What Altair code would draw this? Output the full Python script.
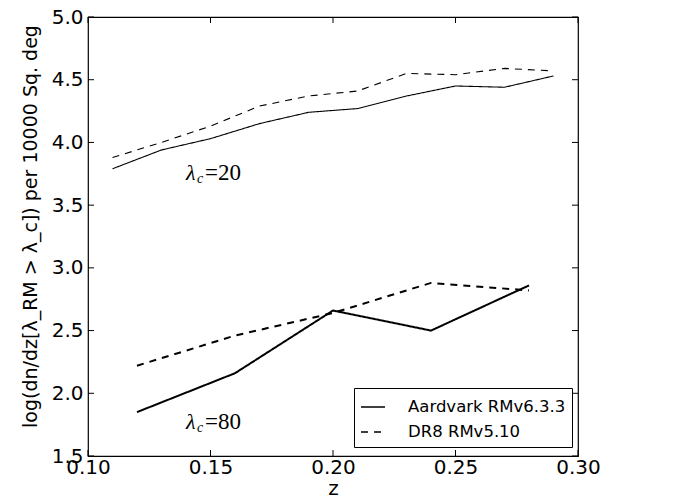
import altair as alt
import pandas as pd

# ---- data ----
z_hi = [0.11, 0.13, 0.15, 0.17, 0.19, 0.21, 0.23, 0.25, 0.27, 0.29]
aard_20 = [3.79, 3.94, 4.03, 4.15, 4.24, 4.27, 4.37, 4.45, 4.44, 4.53]
dr8_20 = [3.88, 4.00, 4.13, 4.29, 4.37, 4.41, 4.55, 4.54, 4.59, 4.57]

z_lo = [0.12, 0.16, 0.20, 0.24, 0.28]
aard_80 = [1.85, 2.16, 2.66, 2.50, 2.86]
dr8_80 = [2.22, 2.46, 2.64, 2.88, 2.82]

series_names = ["Aardvark RMv6.3.3", "DR8 RMv5.10"]
lambda_cuts = ["20", "80"]

x_ticks = [0.10, 0.15, 0.20, 0.25, 0.30]
y_ticks = [1.5, 2.0, 2.5, 3.0, 3.5, 4.0, 4.5, 5.0]

ann_z = [0.14, 0.14]
ann_y = [3.756, 1.771]
ann_val = ["20", "80"]

# ---- build tables ----
rows = []
for name, lam, zs, vs in [
    (series_names[0], lambda_cuts[0], z_hi, aard_20),
    (series_names[1], lambda_cuts[0], z_hi, dr8_20),
    (series_names[0], lambda_cuts[1], z_lo, aard_80),
    (series_names[1], lambda_cuts[1], z_lo, dr8_80),
]:
    for z, v in zip(zs, vs):
        rows.append({"z": z, "v": v, "series": name, "lam": lam, "grp": name + lam})
df = pd.DataFrame(rows)

df_xt = pd.DataFrame({"z": x_ticks})
df_yt = pd.DataFrame({"v": y_ticks})
df_ann = pd.DataFrame({"z": ann_z, "v": ann_y, "eq": ["=" + s for s in ann_val]})

W, H = 490, 439
TL = 6

xscale = alt.Scale(domain=[0.10, 0.30], nice=False, zero=False)
yscale = alt.Scale(domain=[1.5, 5.0], nice=False, zero=False)

xaxis = alt.Axis(values=x_ticks, format=".2f", title="z", labelFontSize=20,
                 labelFont="DejaVu Sans", labelColor="black", titleFont="DejaVu Sans",
                 titleFontSize=20, titleFontWeight="normal", titleColor="black",
                 titlePadding=1, labelPadding=1, domain=False, ticks=False, grid=False,
                 labelFlush=False, labelOverlap=False)
yaxis = alt.Axis(values=y_ticks, format=".1f",
                 title="log(dn/dz[λ_RM > λ_c]) per 10000 Sq. deg",
                 labelFontSize=20, labelFont="DejaVu Sans", labelColor="black",
                 titleFont="DejaVu Sans", titleFontSize=19, titleFontWeight="normal",
                 titleColor="black", titleAngle=270, titleX=-58, titleY=209,
                 titleAlign="center", titleBaseline="middle",
                 labelPadding=5, domain=False, ticks=False, grid=False,
                 labelFlush=False, labelOverlap=False)

lines = alt.Chart(df).mark_line(color="black").encode(
    x=alt.X("z:Q", scale=xscale, axis=xaxis),
    y=alt.Y("v:Q", scale=yscale, axis=yaxis),
    strokeDash=alt.StrokeDash(
        "series:N",
        scale=alt.Scale(domain=series_names, range=[[1, 0], [7, 6]]),
        legend=alt.Legend(
            title=None, orient="none", legendX=266, legendY=371,
            labelFont="DejaVu Sans", labelFontSize=16.5, labelColor="black",
            labelLimit=0,
            symbolType="stroke", symbolSize=576, symbolStrokeWidth=1.3,
            symbolStrokeColor="black", labelOffset=22, rowPadding=3,
            padding=6, strokeColor="black", fillColor="white", cornerRadius=0,
        ),
    ),
    strokeWidth=alt.StrokeWidth(
        "lam:N", scale=alt.Scale(domain=lambda_cuts, range=[1.1, 2.0]), legend=None
    ),
    detail="grp:N",
)

tick_style = dict(color="black", strokeWidth=1)
top_ticks = alt.Chart(df_xt).mark_rule(**tick_style).encode(
    x=alt.X("z:Q", scale=xscale), y=alt.value(0), y2=alt.value(TL))
bot_ticks = alt.Chart(df_xt).mark_rule(**tick_style).encode(
    x=alt.X("z:Q", scale=xscale), y=alt.value(H), y2=alt.value(H - TL))
left_ticks = alt.Chart(df_yt).mark_rule(**tick_style).encode(
    y=alt.Y("v:Q", scale=yscale), x=alt.value(0), x2=alt.value(TL))
right_ticks = alt.Chart(df_yt).mark_rule(**tick_style).encode(
    y=alt.Y("v:Q", scale=yscale), x=alt.value(W), x2=alt.value(W - TL))

ann_base = alt.Chart(df_ann).encode(
    x=alt.X("z:Q", scale=xscale), y=alt.Y("v:Q", scale=yscale))
ann_l = ann_base.mark_text(align="left", baseline="middle", font="Liberation Serif",
                           fontStyle="italic", fontSize=22, color="black").encode(
    text=alt.value("λ"))
ann_c = ann_base.mark_text(align="left", baseline="middle", font="Liberation Serif",
                           fontStyle="italic", fontSize=14, color="black",
                           dx=11, dy=6).encode(text=alt.value("c"))
ann_eq = ann_base.mark_text(align="left", baseline="middle", font="Liberation Serif",
                            fontSize=23, color="black", dx=19).encode(text="eq:N")

chart = alt.layer(
    lines, top_ticks, bot_ticks, left_ticks, right_ticks, ann_l, ann_c, ann_eq
).properties(
    width=W, height=H,
    autosize=alt.AutoSizeParams(type="none"),
    padding={"left": 88, "top": 17, "right": 685 - 88 - W, "bottom": 497 - 17 - H},
    background="white",
).configure_view(stroke="black", strokeWidth=1.2)

chart.save("out.html", embed_options={"renderer": "svg", "actions": False})
